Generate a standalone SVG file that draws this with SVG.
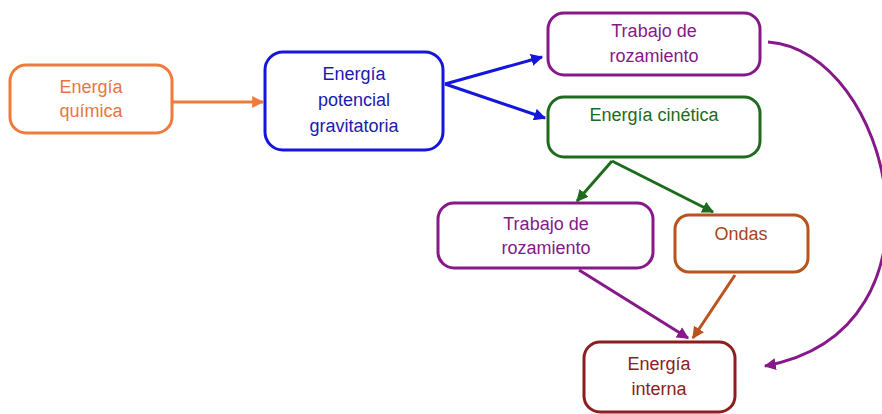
<svg xmlns="http://www.w3.org/2000/svg" width="882" height="414" viewBox="0 0 882 414">
<style>
.box{fill:#fff;stroke-width:3}
.t{font-family:"Liberation Sans","DejaVu Sans",sans-serif;font-size:18px;text-anchor:middle}
.c{fill:none;stroke-width:3}
</style>
<defs>
<marker id="mo" viewBox="0 0 10 10" refX="9" refY="5" markerWidth="4" markerHeight="4" orient="auto" markerUnits="strokeWidth"><path d="M0,0L10,5L0,10z" fill="#F07A3A"/></marker>
<marker id="mb" viewBox="0 0 10 10" refX="9" refY="5" markerWidth="4" markerHeight="4" orient="auto" markerUnits="strokeWidth"><path d="M0,0L10,5L0,10z" fill="#1515E0"/></marker>
<marker id="mg" viewBox="0 0 10 10" refX="9" refY="5" markerWidth="4" markerHeight="4" orient="auto" markerUnits="strokeWidth"><path d="M0,0L10,5L0,10z" fill="#1E6B1E"/></marker>
<marker id="mp" viewBox="0 0 10 10" refX="9" refY="5" markerWidth="4" markerHeight="4" orient="auto" markerUnits="strokeWidth"><path d="M0,0L10,5L0,10z" fill="#86188A"/></marker>
<marker id="mr" viewBox="0 0 10 10" refX="9" refY="5" markerWidth="4" markerHeight="4" orient="auto" markerUnits="strokeWidth"><path d="M0,0L10,5L0,10z" fill="#B9531E"/></marker>
</defs>
<rect width="882" height="414" fill="#fff"/>
<g id="connectors">
<line class="c" x1="173" y1="102" x2="263" y2="102" stroke="#F07A3A" marker-end="url(#mo)"/>
<line class="c" x1="445" y1="84" x2="542" y2="57" stroke="#1515E0" marker-end="url(#mb)"/>
<line class="c" x1="445" y1="84" x2="545" y2="118" stroke="#1515E0" marker-end="url(#mb)"/>
<line class="c" x1="612" y1="161" x2="577" y2="201" stroke="#1E6B1E" marker-end="url(#mg)"/>
<line class="c" x1="612" y1="161" x2="713" y2="212" stroke="#1E6B1E" marker-end="url(#mg)"/>
<line class="c" x1="579" y1="270" x2="688" y2="338" stroke="#86188A" marker-end="url(#mp)"/>
<line class="c" x1="735" y1="275" x2="693" y2="338" stroke="#B9531E" marker-end="url(#mr)"/>
<path class="c" d="M768,42 C890,50 960,330 765,366" stroke="#86188A" marker-end="url(#mp)"/>
</g>
<g id="quimica">
<rect class="box" x="10" y="65" width="162" height="68" rx="16" stroke="#F07A3A"/>
<text class="t" x="91" y="93" fill="#E8763A">Energía</text>
<text class="t" x="91" y="117" fill="#E8763A">química</text>
</g>
<g id="potencial">
<rect class="box" x="265" y="52" width="178" height="98" rx="18" stroke="#1515E0"/>
<text class="t" x="354" y="80" fill="#1A1AB0">Energía</text>
<text class="t" x="354" y="106" fill="#1A1AB0">potencial</text>
<text class="t" x="354" y="132" fill="#1A1AB0">gravitatoria</text>
</g>
<g id="rozamiento1">
<rect class="box" x="548" y="13" width="212" height="62" rx="16" stroke="#86188A"/>
<text class="t" x="654" y="37" fill="#86188A">Trabajo de</text>
<text class="t" x="654" y="62" fill="#86188A">rozamiento</text>
</g>
<g id="cinetica">
<rect class="box" x="548" y="97" width="212" height="60" rx="16" stroke="#1E6B1E"/>
<text class="t" x="654" y="121" fill="#1E6B1E">Energía cinética</text>
</g>
<g id="rozamiento2">
<rect class="box" x="438" y="203" width="215" height="65" rx="16" stroke="#86188A"/>
<text class="t" x="546" y="230" fill="#86188A">Trabajo de</text>
<text class="t" x="546" y="254" fill="#86188A">rozamiento</text>
</g>
<g id="ondas">
<rect class="box" x="675" y="215" width="133" height="57" rx="14" stroke="#B9531E"/>
<text class="t" x="741" y="240" fill="#A9441A">Ondas</text>
</g>
<g id="interna">
<rect class="box" x="584" y="342" width="151" height="70" rx="16" stroke="#8B1E1E"/>
<text class="t" x="659" y="370" fill="#8B1E1E">Energía</text>
<text class="t" x="659" y="395" fill="#8B1E1E">interna</text>
</g>
</svg>
